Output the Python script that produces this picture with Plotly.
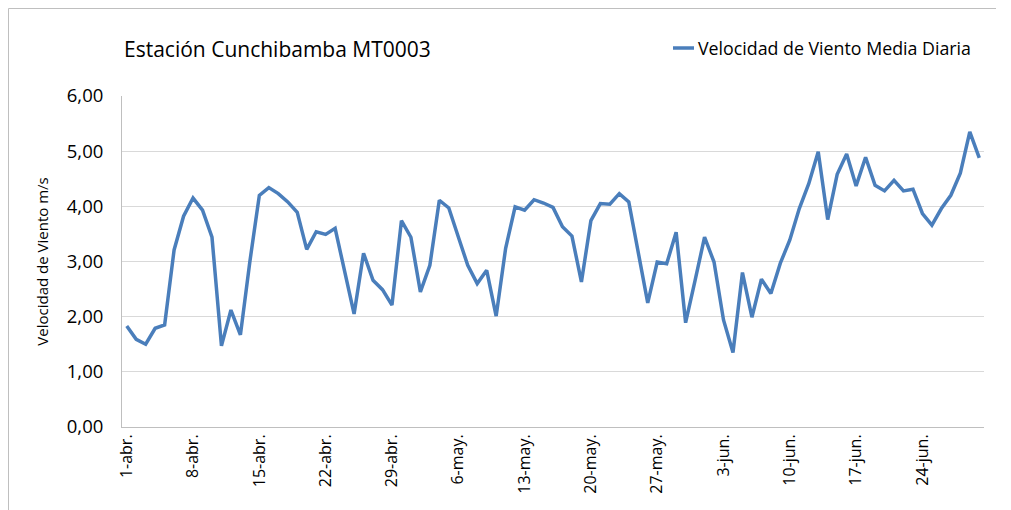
import plotly.graph_objects as go
import pandas as pd

title_text = "Estación Cunchibamba MT0003"
series_name = "Velocidad de Viento Media Diaria"
y_title = "Velocidad de Viento m/s"

dates = pd.date_range("2013-04-01", "2013-06-30", freq="D")

velocidad = [1.83, 1.59, 1.50, 1.79, 1.85, 3.21, 3.82, 4.15, 3.93, 3.44,
             1.47, 2.12, 1.67, 3.00, 4.20, 4.34, 4.23, 4.08, 3.89, 3.22,
             3.54, 3.49, 3.60, 2.83, 2.05, 3.15, 2.66, 2.49, 2.21, 3.74,
             3.44, 2.45, 2.93, 4.11, 3.97, 3.45, 2.93, 2.60, 2.84, 2.01,
             3.24, 3.99, 3.93, 4.12, 4.06, 3.98, 3.63, 3.46, 2.63, 3.74,
             4.05, 4.04, 4.23, 4.08, 3.17, 2.25, 2.99, 2.96, 3.53, 1.89,
             2.66, 3.44, 2.99, 1.94, 1.35, 2.80, 1.99, 2.68, 2.42, 2.97,
             3.39, 3.96, 4.41, 4.99, 3.76, 4.58, 4.95, 4.37, 4.89, 4.38,
             4.28, 4.47, 4.28, 4.31, 3.87, 3.66, 3.96, 4.20, 4.60, 5.35, 4.88]

tick_dates = ["2013-04-01", "2013-04-08", "2013-04-15", "2013-04-22", "2013-04-29",
              "2013-05-06", "2013-05-13", "2013-05-20", "2013-05-27", "2013-06-03",
              "2013-06-10", "2013-06-17", "2013-06-24"]
tick_labels = ["1-abr.", "8-abr.", "15-abr.", "22-abr.", "29-abr.", "6-may.", "13-may.",
               "20-may.", "27-may.", "3-jun.", "10-jun.", "17-jun.", "24-jun."]
y_ticks = [0, 1, 2, 3, 4, 5, 6]

FONT = "Open Sans"
LINE_COLOR = "#4A7EBB"
W, H = 1011, 510
OFF = 8  # page body margin offset
# target plot box in page pixels: left 122, right 984, top 96, bottom 427
ML = 122 - OFF
MT = 96 - OFF
MR = W - (984 - OFF)
MB = H - (427 - OFF)
PW, PH = W - ML - MR, H - MT - MB


def px_x(x):
    return (x - OFF - ML) / PW


def px_y(y):
    return 1 - (y - OFF - MT) / PH


fig = go.Figure()
fig.add_trace(go.Scatter(
    x=dates, y=velocidad, mode="lines", name=series_name,
    line=dict(color=LINE_COLOR, width=3.5), showlegend=False,
))

legend_y = 48
fig.update_layout(
    width=W, height=H,
    paper_bgcolor="white", plot_bgcolor="white",
    separators=",.",
    margin=dict(l=ML, r=MR, t=MT, b=MB),
    font=dict(family=FONT, color="#000000", size=14),
    title=dict(text=title_text, x=(124 - OFF) / W, xanchor="left", xref="container",
               y=1 - (50 - OFF) / H, yanchor="middle", yref="container",
               font=dict(family=FONT, size=21, color="#000000")),
    showlegend=False,
    shapes=[
        dict(type="line", xref="paper", yref="paper",
             x0=px_x(8.5), x1=px_x(996), y0=px_y(8.5), y1=px_y(8.5),
             line=dict(color="#BFBFBF", width=1)),
        dict(type="line", xref="paper", yref="paper",
             x0=px_x(8.5), x1=px_x(8.5), y0=px_y(8.5), y1=px_y(530),
             line=dict(color="#BFBFBF", width=1)),
        dict(type="line", xref="paper", yref="paper",
             x0=px_x(673), x1=px_x(694), y0=px_y(legend_y), y1=px_y(legend_y),
             line=dict(color=LINE_COLOR, width=3.5)),
    ],
    annotations=[
        dict(text=series_name, xref="paper", yref="paper",
             x=px_x(696), y=px_y(legend_y), xanchor="left", yanchor="middle",
             showarrow=False, font=dict(family=FONT, size=17.8, color="#000000")),
    ],
)

fig.update_xaxes(
    type="date",
    range=["2013-03-31 12:00", "2013-06-30 12:00"],
    tickvals=tick_dates, ticktext=tick_labels, tickangle=-90,
    tickfont=dict(family=FONT, size=16, color="#000000"),
    showgrid=False, showline=True, linecolor="#BFBFBF", linewidth=1,
    ticks="", zeroline=False,
)
fig.update_yaxes(
    range=[0, 6], tickvals=y_ticks, tickformat=".2f",
    tickfont=dict(family=FONT, size=18.5, color="#000000"),
    title=dict(text=y_title, font=dict(family=FONT, size=15, color="#000000"), standoff=14),
    showgrid=True, gridcolor="#D9D9D9", gridwidth=1,
    showline=True, linecolor="#BFBFBF", linewidth=1,
    ticks="", zeroline=False, ticklabelstandoff=14,
)

fig.write_html("out.html")
